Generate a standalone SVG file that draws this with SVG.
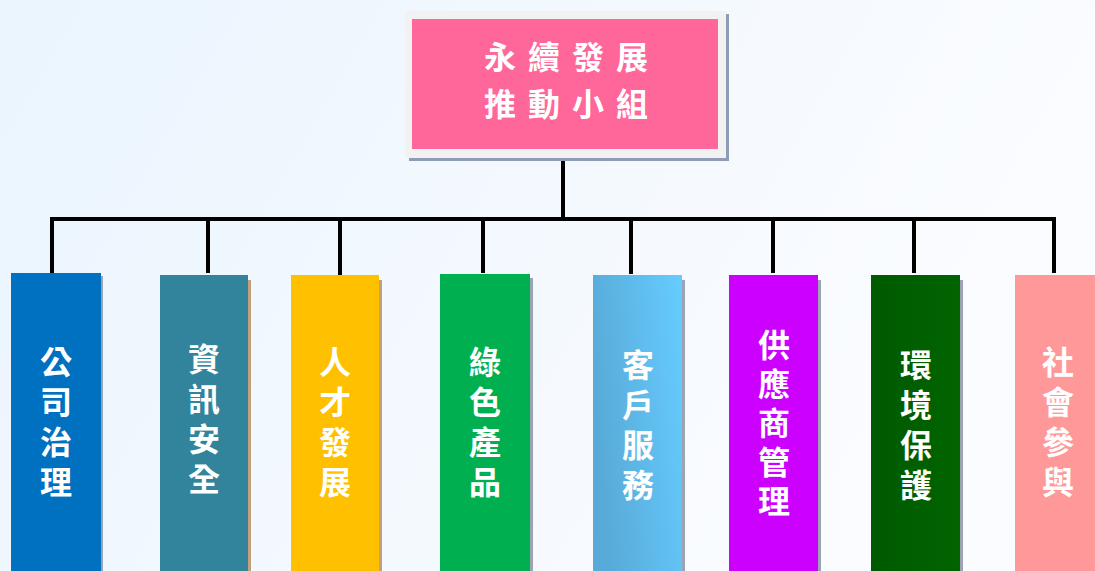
<svg xmlns="http://www.w3.org/2000/svg" width="1095" height="571" viewBox="0 0 1095 571">
<defs>
<linearGradient id="bg" x1="0" y1="0" x2="1" y2="0.3">
<stop offset="0" stop-color="#EAF5FE"/>
<stop offset="1" stop-color="#FBFCFF"/>
</linearGradient>
<linearGradient id="sky" x1="0" y1="0.3" x2="1" y2="0">
<stop offset="0" stop-color="#58ABD8"/>
<stop offset="1" stop-color="#66CCFF"/>
</linearGradient>
<linearGradient id="dg" x1="0" y1="0" x2="1" y2="0">
<stop offset="0" stop-color="#005A00"/>
<stop offset="1" stop-color="#006400"/>
</linearGradient>
</defs>
<style>
.lbl{font-family:"Noto Sans CJK TC","Noto Sans CJK SC",sans-serif;font-weight:bold;fill:#FFFFFF;text-anchor:middle}
.col{font-size:32px;writing-mode:vertical-rl;letter-spacing:8px}
.top{font-size:32px;letter-spacing:12px}
.conn{stroke:#000000;stroke-width:4;fill:none;stroke-linecap:square}
.shT{fill:#C3A07C}
.shG{fill:#9CA3B3}
</style>
<rect x="0" y="0" width="1095" height="571" fill="url(#bg)"/>

<g id="connectors">
<path class="conn" d="M563 160 V218 M52 219 H1054 M52 219 V271 M208 219 V271 M340 219 V273 M483 219 V271 M631 219 V272 M773 219 V271 M914 219 V271 M1054 219 V271"/>
</g>

<g id="top">
<rect x="409" y="14" width="320" height="147" fill="#8E9DB3"/>
<rect x="405" y="11" width="321" height="147" fill="#F2F2F2"/>
<rect x="412" y="19" width="306" height="130" fill="#FF6699"/>
<text class="lbl top" x="572" y="69">永續發展</text>
<text class="lbl top" x="572" y="116">推動小組</text>
</g>

<g id="n1">
<rect class="shG" x="101" y="276" width="2" height="295"/>
<rect x="11" y="273" width="90" height="298" fill="#0070C0"/>
<text class="lbl col" x="56" y="426">公司治理</text>
</g>

<g id="n2">
<rect class="shT" x="248" y="280" width="3" height="291"/>
<rect x="160" y="275" width="88" height="296" fill="#31849B"/>
<text class="lbl col" x="204" y="423">資訊安全</text>
</g>

<g id="n3">
<rect class="shT" x="379" y="280" width="3" height="291"/>
<rect x="291" y="275" width="88" height="296" fill="#FFC000"/>
<text class="lbl col" x="335" y="426">人才發展</text>
</g>

<g id="n4">
<rect class="shG" x="530" y="278" width="3" height="293"/>
<rect x="440" y="274" width="90" height="297" fill="#00B050"/>
<text class="lbl col" x="485" y="426">綠色產品</text>
</g>

<g id="n5">
<rect class="shG" x="682" y="280" width="3" height="291"/>
<rect x="593" y="275" width="89" height="296" fill="url(#sky)"/>
<text class="lbl col" x="638" y="429">客戶服務</text>
</g>

<g id="n6">
<rect class="shG" x="818" y="280" width="3" height="291"/>
<rect x="729" y="275" width="89" height="296" fill="#CC00FF"/>
<text class="lbl col" x="774" y="426" style="letter-spacing:7px">供應商管理</text>
</g>

<g id="n7">
<rect class="shG" x="960" y="280" width="3" height="291"/>
<rect x="871" y="275" width="89" height="296" fill="url(#dg)"/>
<text class="lbl col" x="916" y="429">環境保護</text>
</g>

<g id="n8">
<rect x="1015" y="275" width="80" height="296" fill="#FF9999"/>
<text class="lbl col" x="1058" y="426">社會參與</text>
</g>
</svg>
